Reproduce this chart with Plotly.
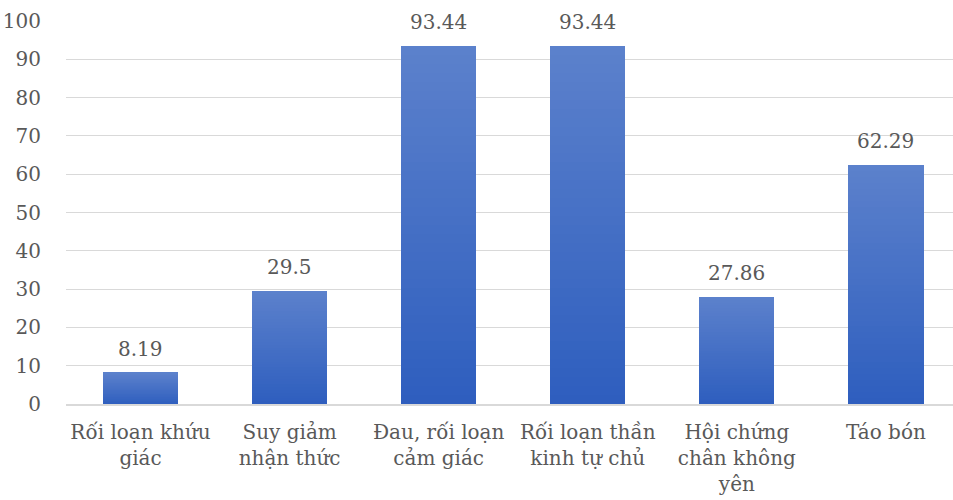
import plotly.graph_objects as go

# Non-motor symptoms (%)
categories = [
    "Rối loạn khứu<br>giác",
    "Suy giảm<br>nhận thức",
    "Đau, rối loạn<br>cảm giác",
    "Rối loạn thần<br>kinh tự chủ",
    "Hội chứng<br>chân không<br>yên",
    "Táo bón",
]
values = [8.19, 29.5, 93.44, 93.44, 27.86, 62.29]
y_ticks = list(range(0, 101, 10))

FONT = "DejaVu Serif"
FONT_SIZE = 20
TEXT_COLOR = "#595959"
TOP_RGB = (92, 129, 204)
BOTTOM_RGB = (46, 94, 190)
N_STEPS = 40

fig = go.Figure()

# Vertical gradient: each bar is built from thin slices, light at the top, dark at the base
for i in range(N_STEPS):
    t = (i + 0.5) / N_STEPS
    r, g, b = (round(BOTTOM_RGB[k] + (TOP_RGB[k] - BOTTOM_RGB[k]) * t) for k in range(3))
    fig.add_trace(go.Bar(
        x=categories,
        y=[v / N_STEPS * 1.02 if i < N_STEPS - 1 else v / N_STEPS for v in values],
        base=[v * i / N_STEPS for v in values],
        marker=dict(color=f"rgb({r},{g},{b})", line=dict(width=0)),
        width=0.505,
        hoverinfo="skip",
        showlegend=False,
    ))

# Value labels above each bar
for c, v in zip(categories, values):
    fig.add_annotation(
        x=c, y=v, text=f"{v:g}", showarrow=False,
        yanchor="bottom", yshift=10,
        font=dict(family=FONT, size=FONT_SIZE, color=TEXT_COLOR),
    )

fig.update_layout(
    width=953, height=500,
    margin=dict(l=66, r=0, t=21, b=96),
    barmode="overlay",
    bargap=0,
    plot_bgcolor="white",
    paper_bgcolor="white",
    font=dict(family=FONT, size=FONT_SIZE, color=TEXT_COLOR),
    xaxis=dict(
        range=[-0.5, 5.45],
        showgrid=False,
        showline=True, linecolor="#D9D9D9", linewidth=2,
        ticks="outside", ticklen=0, tickcolor="white",
        ticklabelstandoff=9,
        tickfont=dict(family=FONT, size=FONT_SIZE, color=TEXT_COLOR),
    ),
    yaxis=dict(
        range=[0, 100],
        tickvals=y_ticks,
        showgrid=True, gridcolor="#D9D9D9", gridwidth=1,
        zeroline=False,
        ticks="outside", ticklen=0, tickcolor="white",
        ticklabelstandoff=20,
        tickfont=dict(family=FONT, size=FONT_SIZE, color=TEXT_COLOR),
    ),
)

fig.write_html("out.html")
